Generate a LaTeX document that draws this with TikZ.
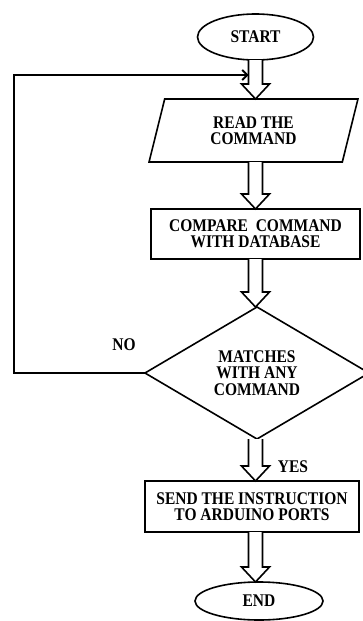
\documentclass[tikz,border=0pt]{standalone}
\usepackage{fontspec}
\setmainfont{Liberation Serif}
\usetikzlibrary{shapes.geometric,calc,arrows.meta}
\newcommand{\tx}[2][11.4pt]{\scalebox{1}[1.15]{\vbox{\baselineskip=#1\lineskiplimit=-20pt\lineskip=0pt\halign{\hfil##\hfil\cr#2\crcr}}}}
\newcommand{\barrow}[2]{%
  \draw[blockarrow] let \p1=(#1.south), \p2=(#2.north) in
    (248.5pt,\y1) -- (248.5pt,\y2+15pt) -- (241.5pt,\y2+15pt) -- (255.5pt,\y2)
    -- (269.5pt,\y2+15pt) -- (262.5pt,\y2+15pt) -- (262.5pt,\y1);}
\begin{document}
\begin{tikzpicture}[x=1pt,y=1pt,line width=1.6pt,
  every node/.style={font=\fontsize{15.5}{11.4}\selectfont\bfseries, outer sep=0pt},
  shapebox/.style={draw, inner sep=0pt},
  blockarrow/.style={draw, fill=white, line width=1.6pt, line join=miter},
  fbk/.style={-{Straight Barb[length=5pt,width=10pt]}, line width=1.8pt},
  lbl/.style={inner sep=0pt}]
\useasboundingbox (0,0) rectangle (363,-621);
\node[shapebox, ellipse, minimum width=116, minimum height=46] (start) at (255.5,-37) {\tx{START}};
\node[shapebox, trapezium, trapezium left angle=75, trapezium right angle=105,
      trapezium stretches=true, minimum width=209, minimum height=63] (read) at (253.5,-130.5) {\raisebox{-2pt}{\tx[14.2pt]{READ THE\cr COMMAND}}};
\node[shapebox, rectangle, minimum width=209, minimum height=50] (cmp) at (255.5,-234) {\tx[13.6pt]{COMPARE\ \ COMMAND\cr WITH DATABASE}};
\node[shapebox, diamond, minimum width=224, minimum height=132] (match) at (257,-373) {\tx[14.4pt]{MATCHES\cr WITH ANY\cr COMMAND}};
\node[shapebox, rectangle, minimum width=214, minimum height=51] (send) at (252,-506.5) {\tx[13.8pt]{SEND THE INSTRUCTION\cr TO ARDUINO PORTS}};
\node[shapebox, ellipse, minimum width=128, minimum height=38] (end) at (259,-601) {\tx{END}};
\node[lbl] (no) at (124,-345) {\tx{NO}};
\node[lbl] (yes) at (293,-467) {\tx{YES}};
\barrow{start}{read}
\barrow{read}{cmp}
\barrow{cmp}{match}
\barrow{match}{send}
\barrow{send}{end}
\coordinate (lc) at (14,-75);
\coordinate (fb) at (248.5,-75);
\draw[fbk] (match.west) -| (lc) -- (fb);
\end{tikzpicture}
\end{document}
